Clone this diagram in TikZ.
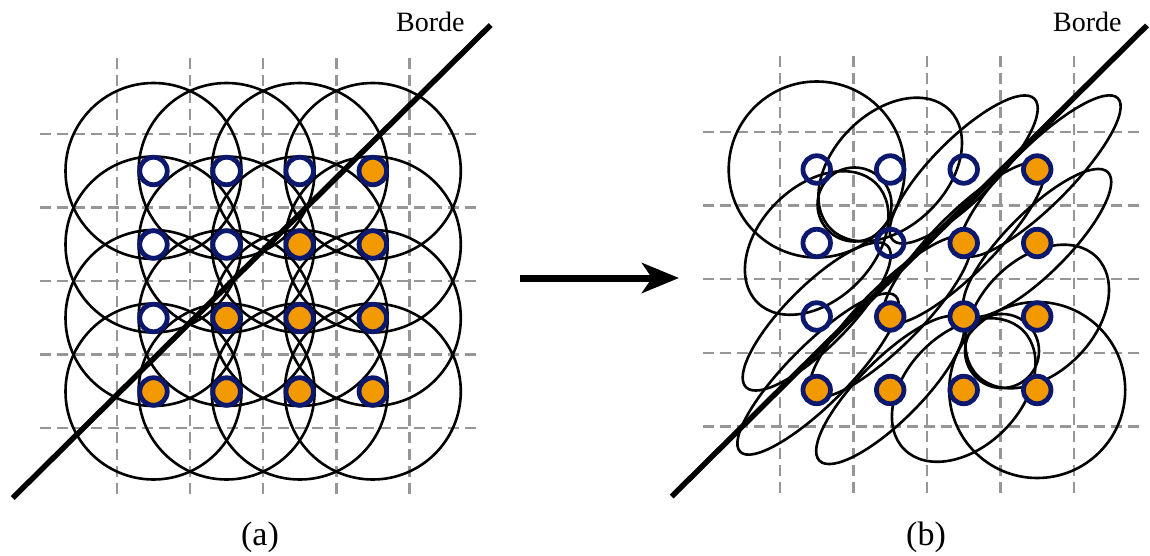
\documentclass[tikz,border=0pt]{standalone}
\usepackage{fontspec}
\setmainfont{Liberation Serif}
\usetikzlibrary{arrows.meta,calc}
\definecolor{navy}{RGB}{12,24,110}
\definecolor{dotorange}{RGB}{242,153,0}
\definecolor{gridgray}{RGB}{150,150,150}
\tikzset{
  gridline/.style={gridgray, line width=2.4pt, dash pattern=on 11pt off 6pt},
  kernel/.style={black, line width=2.6pt},
  borderline/.style={black, line width=5.5pt},
  particle/.style={circle, draw=navy, line width=4.8pt, minimum size=27.5pt, inner sep=0pt},
  inpart/.style={particle, fill=dotorange},
  outpart/.style={particle, fill=white},
  ringpart/.style={particle},
  lbl/.style={inner sep=0pt, font=\fontsize{28}{30}\selectfont},
  captext/.style={inner sep=0pt, font=\fontsize{34}{36}\selectfont},
  bigarrow/.style={line width=7pt, -{Stealth[length=37pt, width=30pt, inset=10pt]}}
}
\begin{document}
\begin{tikzpicture}[x=1pt, y=-1pt]
\useasboundingbox (0,0) rectangle (1150,556);
% ---------- left panel: grid ----------
\foreach \k in {0,...,4} {
  \draw[gridline] ({117+73.1*\k},58) -- ({117+73.1*\k},495);
  \draw[gridline] (40,{134+73.5*\k}) -- (478,{134+73.5*\k});
}
% kernels (circles)
\foreach \i in {0,...,3} {
  \foreach \j in {0,...,3} {
    \draw[kernel] ({153.5+73.1*\i},{171+73.5*\j}) circle[radius=88pt];
  }
}
% border
\coordinate (bl1) at (12.7,498);
\coordinate (bl2) at (490.7,25);
\draw[borderline] (bl1) -- (bl2);
% particles
\foreach \i/\j/\s in {0/0/outpart,1/0/outpart,2/0/outpart,3/0/inpart,
                      0/1/outpart,1/1/outpart,2/1/inpart,3/1/inpart,
                      0/2/outpart,1/2/inpart,2/2/inpart,3/2/inpart,
                      0/3/inpart,1/3/inpart,2/3/inpart,3/3/inpart} {
  \node[\s] (L\i\j) at ({153.5+73.1*\i},{171+73.5*\j}) {};
}
\node[lbl, anchor=base west] (bordeL) at (396,31.7) {Borde};
\node[captext, anchor=base] (capA) at (260,545) {(a)};
% ---------- arrow ----------
\coordinate (arS) at (520,278);
\coordinate (arE) at (679,278);
\draw[bigarrow] (arS) -- (arE);
% ---------- right panel: grid ----------
\foreach \k in {0,...,4} {
  \draw[gridline] ({780+73.5*\k},56.5) -- ({780+73.5*\k},494.7);
  \draw[gridline] (703,{132+73.6*\k}) -- (1143,{132+73.6*\k});
}
% dot centres
\foreach \i in {0,...,3} {
  \foreach \j in {0,...,3} {
    \coordinate (c\i\j) at ({816.7+73.5*\i},{169.5+73.5*\j});
  }
}
% kernel centres that are offset from their particle
\coordinate (k11) at (854.5,204.5);
\coordinate (k22) at (1002,351);
\coordinate (k30) at (1040,176);
\coordinate (k03) at (818,374);
% kernels (deformed)
\draw[kernel] (c00) circle[radius=88pt];
\draw[kernel] (c33) circle[radius=88pt];
\draw[kernel] (k11) circle[radius=37pt];
\draw[kernel] (k22) circle[radius=37pt];
\foreach \c/\a/\b in {c10/84/57, c01/84/57, c32/84/57, c23/84/57,
                      c20/100/31, c02/100/31, c31/100/31, c13/100/31,
                      k30/110/30, c21/110/30, c12/110/30, k03/110/30} {
  \draw[kernel, rotate around={45:(\c)}] (\c) ellipse[x radius=\a pt, y radius=\b pt];
}
% border
\coordinate (br1) at (671.7,496.5);
\coordinate (br2) at (1147,25.4);
\draw[borderline] (br1) -- (br2);
% particles
\foreach \i/\j/\s in {0/0/ringpart,1/0/ringpart,2/0/ringpart,3/0/inpart,
                      0/1/ringpart,1/1/ringpart,2/1/inpart,3/1/inpart,
                      0/2/ringpart,1/2/inpart,2/2/inpart,3/2/inpart,
                      0/3/inpart,1/3/inpart,2/3/inpart,3/3/inpart} {
  \node[\s] (R\i\j) at (c\i\j) {};
}
\node[lbl, anchor=base west] (bordeR) at (1053,31.8) {Borde};
\node[captext, anchor=base] (capB) at (926,545) {(b)};
\end{tikzpicture}
\end{document}
